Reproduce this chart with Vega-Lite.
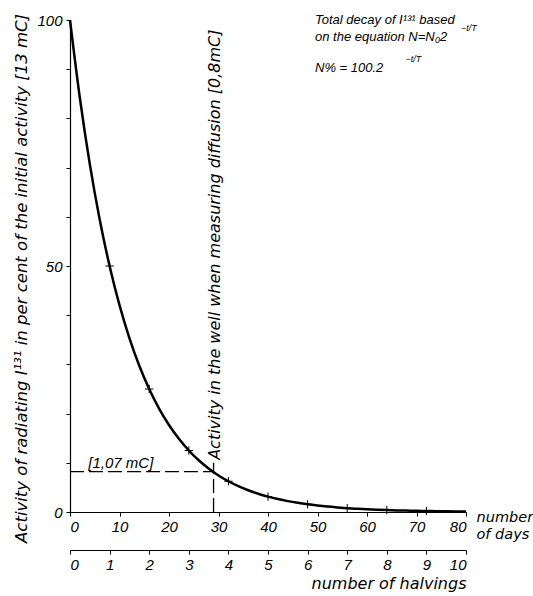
{
  "$schema": "https://vega.github.io/schema/vega-lite/v6.json",
  "width": 396,
  "height": 492,
  "autosize": {"type": "none"},
  "padding": {"left": 70, "top": 20, "right": 67, "bottom": 84},
  "background": "white",
  "config": {
    "view": {"stroke": null},
    "font": "Liberation Sans",
    "axis": {
      "grid": false,
      "domainColor": "black",
      "tickColor": "black",
      "labelColor": "black",
      "titleColor": "black",
      "labelFontStyle": "italic",
      "titleFontStyle": "italic",
      "titleFontWeight": "normal",
      "labelFontSize": 15,
      "titleFont": "DejaVu Sans",
      "titleFontSize": 16.5,
      "tickSize": 4,
      "domainWidth": 1.2
    },
    "text": {"fontStyle": "italic", "color": "black", "font": "Liberation Sans"}
  },
  "datasets": {
    "decay": [
      {"day": 0, "pct": 100}, {"day": 2, "pct": 84.09}, {"day": 4, "pct": 70.71}, {"day": 6, "pct": 59.46},
      {"day": 8, "pct": 50}, {"day": 10, "pct": 42.04}, {"day": 12, "pct": 35.36}, {"day": 14, "pct": 29.73},
      {"day": 16, "pct": 25}, {"day": 18, "pct": 21.02}, {"day": 20, "pct": 17.68}, {"day": 22, "pct": 14.87},
      {"day": 24, "pct": 12.5}, {"day": 26, "pct": 10.51}, {"day": 28, "pct": 8.84}, {"day": 30, "pct": 7.43},
      {"day": 32, "pct": 6.25}, {"day": 34, "pct": 5.26}, {"day": 36, "pct": 4.42}, {"day": 38, "pct": 3.72},
      {"day": 40, "pct": 3.13}, {"day": 42, "pct": 2.63}, {"day": 44, "pct": 2.21}, {"day": 46, "pct": 1.86},
      {"day": 48, "pct": 1.56}, {"day": 50, "pct": 1.31}, {"day": 52, "pct": 1.1}, {"day": 54, "pct": 0.93},
      {"day": 56, "pct": 0.78}, {"day": 58, "pct": 0.66}, {"day": 60, "pct": 0.55}, {"day": 62, "pct": 0.46},
      {"day": 64, "pct": 0.39}, {"day": 66, "pct": 0.33}, {"day": 68, "pct": 0.28}, {"day": 70, "pct": 0.23},
      {"day": 72, "pct": 0.2}, {"day": 74, "pct": 0.16}, {"day": 76, "pct": 0.14}, {"day": 78, "pct": 0.12},
      {"day": 80, "pct": 0.1}
    ],
    "marks": [
      {"day": 8, "pct": 50}, {"day": 16, "pct": 25}, {"day": 24, "pct": 12.5}, {"day": 32, "pct": 6.25},
      {"day": 40, "pct": 3.13}, {"day": 48, "pct": 1.56}, {"day": 56, "pct": 0.78}, {"day": 64, "pct": 0.39},
      {"day": 72, "pct": 0.2}
    ],
    "halvings": [
      {"n": 0}, {"n": 1}, {"n": 2}, {"n": 3}, {"n": 4}, {"n": 5}, {"n": 6}, {"n": 7}, {"n": 8}, {"n": 9}, {"n": 10}
    ]
  },
  "layer": [
    {
      "layer": [
        {
          "data": {"name": "decay"},
          "mark": {"type": "line", "color": "black", "strokeWidth": 2.5, "interpolate": "monotone"},
          "encoding": {
            "x": {
              "field": "day", "type": "quantitative",
              "scale": {"domain": [0, 80], "nice": false},
              "axis": {
                "values": [0, 10, 20, 30, 40, 50, 60, 70, 80],
                "title": ["number", "of days"],
                "titleFontSize": 14.5,
                "titleAngle": 0, "titleX": 406, "titleY": -2,
                "titleAlign": "left", "titleBaseline": "top", "titleLineHeight": 17,
                "labelPadding": 3
              }
            },
            "y": {
              "field": "pct", "type": "quantitative",
              "scale": {"domain": [0, 100], "nice": false},
              "axis": {
                "values": [0, 10, 20, 30, 40, 50, 60, 70, 80, 90, 100],
                "labelExpr": "datum.value % 50 == 0 ? datum.label : ''",
                "title": "Activity of radiating I¹³¹ in per cent of the initial activity [13 mC]",
                "titleAngle": -90, "titleX": -49, "titleY": 258,
                "titleAlign": "center", "titleBaseline": "middle",
                "labelPadding": 4
              }
            }
          }
        },
        {
          "data": {"name": "marks"},
          "mark": {"type": "point", "shape": "M-1,0L1,0M0,-1L0,1", "size": 70, "filled": false, "stroke": "black", "strokeWidth": 1, "opacity": 1},
          "encoding": {
            "x": {"field": "day", "type": "quantitative"},
            "y": {"field": "pct", "type": "quantitative"}
          }
        },
        {
          "data": {"values": [{}]},
          "mark": {"type": "rule", "color": "black", "strokeWidth": 1.3, "strokeDash": [14, 5]},
          "encoding": {
            "x": {"datum": 0, "type": "quantitative"},
            "x2": {"datum": 29},
            "y": {"datum": 8.2, "type": "quantitative"}
          }
        },
        {
          "data": {"values": [{}]},
          "mark": {"type": "rule", "color": "black", "strokeWidth": 1.3, "strokeDash": [14, 5]},
          "encoding": {
            "x": {"datum": 29, "type": "quantitative"},
            "y": {"datum": 0, "type": "quantitative"},
            "y2": {"datum": 10}
          }
        },
        {
          "data": {"values": [{}]},
          "mark": {"type": "text", "fontSize": 15, "align": "left", "baseline": "middle"},
          "encoding": {
            "x": {"datum": 3.7, "type": "quantitative"},
            "y": {"datum": 10, "type": "quantitative"},
            "text": {"value": "[1,07 mC]"}
          }
        },
        {
          "data": {"values": [{}]},
          "mark": {"type": "text", "fontSize": 16, "font": "DejaVu Sans", "align": "left", "baseline": "middle", "angle": 270},
          "encoding": {
            "x": {"datum": 29.3, "type": "quantitative"},
            "y": {"datum": 10.6, "type": "quantitative"},
            "text": {"value": "Activity in the well when measuring diffusion [0,8mC]"}
          }
        },
        {
          "data": {"values": [{}]},
          "mark": {"type": "text", "fontSize": 13, "align": "left", "baseline": "middle"},
          "encoding": {
            "x": {"datum": 49.5, "type": "quantitative"},
            "y": {"datum": 100, "type": "quantitative"},
            "text": {"value": "Total decay of I¹³¹ based"}
          }
        },
        {
          "data": {"values": [{}]},
          "mark": {"type": "text", "fontSize": 13, "align": "left", "baseline": "middle"},
          "encoding": {
            "x": {"datum": 49.5, "type": "quantitative"},
            "y": {"datum": 96.5, "type": "quantitative"},
            "text": {"value": "on the equation N=N₀2"}
          }
        },
        {
          "data": {"values": [{}]},
          "mark": {"type": "text", "fontSize": 9, "align": "left", "baseline": "middle"},
          "encoding": {
            "x": {"datum": 79.0, "type": "quantitative"},
            "y": {"datum": 98.3, "type": "quantitative"},
            "text": {"value": "−t/T"}
          }
        },
        {
          "data": {"values": [{}]},
          "mark": {"type": "text", "fontSize": 13, "align": "left", "baseline": "middle"},
          "encoding": {
            "x": {"datum": 49.5, "type": "quantitative"},
            "y": {"datum": 90.3, "type": "quantitative"},
            "text": {"value": "N% = 100.2"}
          }
        },
        {
          "data": {"values": [{}]},
          "mark": {"type": "text", "fontSize": 9, "align": "left", "baseline": "middle"},
          "encoding": {
            "x": {"datum": 67.8, "type": "quantitative"},
            "y": {"datum": 92, "type": "quantitative"},
            "text": {"value": "−t/T"}
          }
        }
      ]
    },
    {
      "data": {"name": "halvings"},
      "mark": {"type": "rule", "opacity": 0},
      "encoding": {
        "x": {
          "field": "n", "type": "quantitative",
          "scale": {"domain": [0, 10], "nice": false},
          "axis": {
            "orient": "bottom", "offset": 38,
            "values": [0, 1, 2, 3, 4, 5, 6, 7, 8, 9, 10],
            "title": "number of halvings",
            "titleFontSize": 16,
            "titleAnchor": "end", "titleAlign": "right",
            "titlePadding": 3, "labelPadding": 3
          }
        }
      }
    }
  ],
  "resolve": {"scale": {"x": "independent"}}
}
